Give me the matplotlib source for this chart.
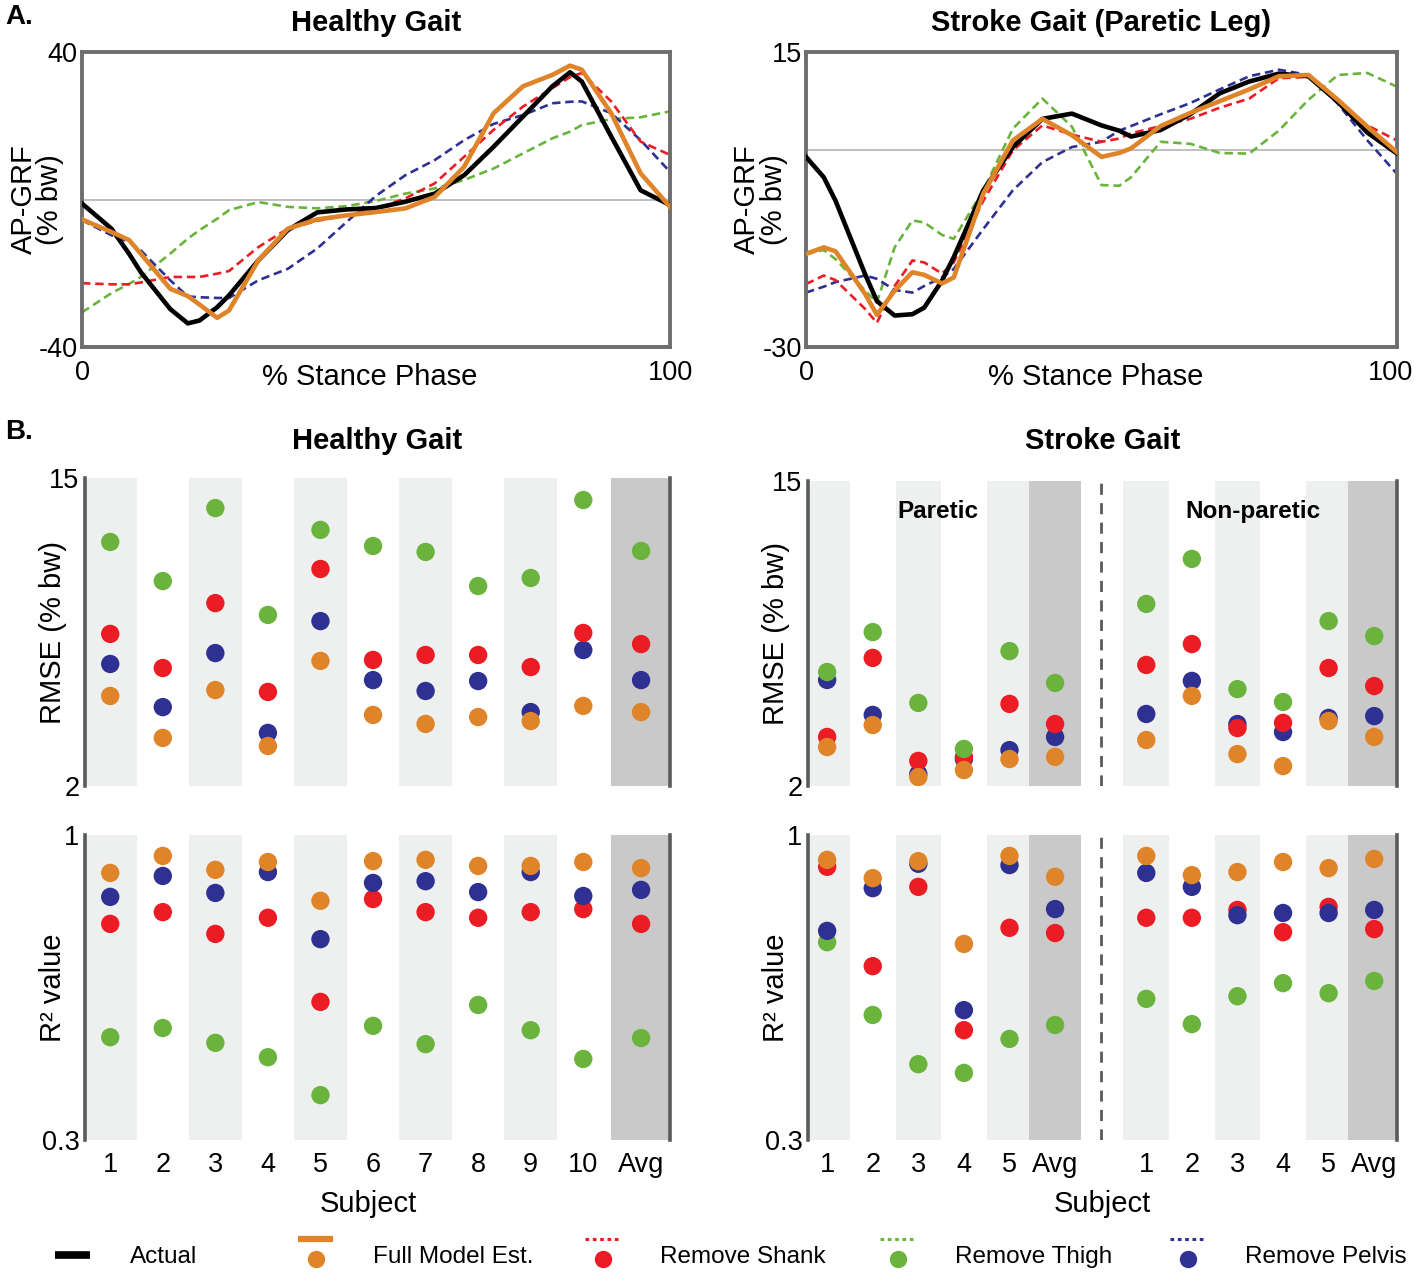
import matplotlib
matplotlib.use('Agg')
import matplotlib.pyplot as plt
from matplotlib.legend_handler import HandlerBase
from matplotlib.lines import Line2D
import matplotlib.transforms as mtransforms

# ---- Panel A: AP-GRF curves (% bw) over % stance ----
pct_healthy = [0, 5, 8, 10, 15, 18, 20, 23, 25, 30, 35, 40, 45, 50, 55, 60, 65, 70, 75, 80, 83, 85, 90, 95, 100]
healthy_actual = [-1.1, -7.9, -14.7, -19.7, -29.7, -33.6, -32.8, -29.2, -26.0, -16.5, -8.3, -3.5, -2.7, -2.3,
                  -0.6, 1.6, 6.6, 14.3, 22.5, 30.7, 34.5, 32.0, 17.1, 2.5, -1.5]
healthy_full = [-5.4, -8.8, -11.0, -14.7, -24.2, -26.2, -28.5, -32.1, -30.1, -16.5, -7.9, -5.4, -4.3, -3.4,
                -2.4, 0.7, 8.9, 23.4, 30.7, 33.8, 36.3, 35.2, 23.4, 7.1, -2.0]
healthy_shank = [-22.7, -23.0, -23.0, -22.5, -21.0, -21.0, -21.0, -20.1, -19.4, -12.9, -7.9, -5.8, -4.3, -2.5,
                 0.3, 4.4, 11.6, 18.9, 25.2, 30.2, 33.2, 34.3, 26.6, 15.7, 12.1]
healthy_thigh = [-30.6, -25.4, -22.9, -21.0, -14.7, -10.6, -8.3, -5.2, -2.9, -0.7, -2.0, -2.4, -1.8, -0.4,
                 1.6, 3.0, 5.3, 8.4, 12.5, 16.6, 18.4, 20.2, 21.8, 22.3, 23.9]
healthy_pelvis = [-5.6, -9.7, -11.5, -13.8, -21.9, -26.3, -26.5, -26.7, -26.7, -21.9, -18.8, -13.3, -6.1, 1.0,
                  6.6, 10.7, 16.1, 20.5, 22.9, 26.1, 26.5, 26.6, 23.4, 16.1, 7.5]

pct_stroke = [0, 3, 5, 10, 12, 15, 18, 20, 23, 25, 30, 35, 40, 45, 50, 53, 55, 60, 65, 70, 75, 80, 85, 90, 95, 100]
stroke_actual = [-1.0, -4.1, -7.7, -18.9, -23.0, -25.2, -25.0, -24.0, -19.9, -16.3, -6.1, 0.5, 4.8, 5.6, 3.8,
                 3.0, 2.1, 3.1, 5.5, 8.7, 10.5, 11.7, 11.3, 7.4, 2.7, -0.5]
stroke_full = [-15.8, -14.8, -15.4, -21.9, -25.1, -21.4, -18.6, -19.0, -20.3, -19.4, -6.6, 1.5, 4.8, 2.3, -1.0,
               -0.4, 0.3, 3.7, 5.7, 7.5, 9.3, 11.3, 11.5, 7.7, 3.6, -0.3]
stroke_shank = [-20.4, -19.1, -19.8, -24.2, -26.3, -20.7, -16.8, -17.1, -18.8, -17.1, -7.7, 0.0, 3.8, 2.4, 1.3,
                1.8, 2.6, 3.7, 4.8, 6.5, 7.9, 11.0, 11.2, 7.4, 3.8, 1.5]
stroke_thigh = [-15.8, -15.2, -16.6, -21.4, -23.2, -14.8, -10.7, -11.0, -12.9, -13.5, -6.1, 3.3, 7.9, 3.6, -5.3,
                -5.4, -4.1, 1.3, 1.0, -0.4, -0.5, 3.0, 7.7, 11.5, 11.8, 9.7]
stroke_pelvis = [-21.7, -20.8, -20.1, -19.1, -19.6, -21.3, -21.7, -20.7, -19.4, -18.1, -12.0, -6.1, -1.8, 0.5,
                 1.3, 3.0, 3.7, 5.5, 7.2, 9.3, 11.3, 12.3, 11.5, 7.1, 1.5, -3.6]

# ---- Panel B: RMSE (% bw) and R^2 per subject ----
healthy_labels = ['1', '2', '3', '4', '5', '6', '7', '8', '9', '10', 'Avg']
healthy_rmse_full = [5.80, 4.03, 6.05, 3.69, 7.28, 5.00, 4.62, 4.91, 4.74, 5.38, 5.12]
healthy_rmse_shank = [8.42, 6.98, 9.72, 5.97, 11.16, 7.32, 7.53, 7.53, 7.02, 8.46, 7.99]
healthy_rmse_thigh = [12.30, 10.65, 13.73, 9.22, 12.81, 12.13, 11.88, 10.44, 10.78, 14.07, 11.92]
healthy_rmse_pelvis = [7.15, 5.33, 7.61, 4.24, 8.96, 6.47, 6.01, 6.43, 5.12, 7.74, 6.47]

healthy_r2_full = [0.913, 0.952, 0.920, 0.938, 0.849, 0.940, 0.943, 0.929, 0.929, 0.938, 0.924]
healthy_r2_shank = [0.796, 0.823, 0.773, 0.810, 0.617, 0.853, 0.823, 0.810, 0.823, 0.830, 0.796]
healthy_r2_thigh = [0.536, 0.557, 0.523, 0.490, 0.403, 0.562, 0.520, 0.610, 0.552, 0.486, 0.534]
healthy_r2_pelvis = [0.858, 0.906, 0.867, 0.915, 0.761, 0.890, 0.894, 0.869, 0.915, 0.860, 0.874]

# stroke: paretic 1-5, Avg, then non-paretic 1-5, Avg
stroke_labels = ['1', '2', '3', '4', '5', 'Avg', '1', '2', '3', '4', '5', 'Avg']
stroke_rmse_full = [3.66, 4.60, 2.38, 2.68, 3.15, 3.24, 3.96, 5.84, 3.36, 2.85, 4.77, 4.09]
stroke_rmse_shank = [4.09, 7.46, 3.07, 3.24, 5.50, 4.64, 7.16, 8.05, 4.47, 4.69, 7.03, 6.26]
stroke_rmse_thigh = [6.86, 8.56, 5.54, 3.58, 7.75, 6.39, 9.76, 11.68, 6.13, 5.58, 9.03, 8.39]
stroke_rmse_pelvis = [6.52, 5.03, 2.51, 3.15, 3.53, 4.09, 5.07, 6.48, 4.64, 4.30, 4.90, 4.98]

stroke_r2_full = [0.943, 0.901, 0.940, 0.750, 0.952, 0.904, 0.952, 0.908, 0.915, 0.938, 0.924, 0.945]
stroke_r2_shank = [0.927, 0.699, 0.881, 0.552, 0.787, 0.775, 0.810, 0.810, 0.828, 0.777, 0.835, 0.784]
stroke_r2_thigh = [0.754, 0.587, 0.474, 0.454, 0.532, 0.564, 0.624, 0.566, 0.630, 0.660, 0.637, 0.665]
stroke_r2_pelvis = [0.780, 0.878, 0.934, 0.598, 0.931, 0.830, 0.913, 0.881, 0.816, 0.821, 0.821, 0.828]

# colours
C_ACT = 'black'
C_FULL = '#df8429'
C_SHANK = '#ec1c24'
C_THIGH = '#6ab43e'
C_PELV = '#2e3192'
BAND = '#eef0f0'
BAND_AVG = '#c9c9c9'
SPINE = '#5a5a5a'

plt.rcParams['font.family'] = ['Liberation Sans', 'DejaVu Sans']
plt.rcParams['axes.unicode_minus'] = False

TICK_FS = 19.5
LABEL_FS = 21
TITLE_FS = 21

W, H = 1415, 1276
fig = plt.figure(figsize=(W / 100, H / 100), dpi=100)


def add_ax(l, t, r, b):
    return fig.add_axes([l / W, 1 - b / H, (r - l) / W, (b - t) / H])


def curve_panel(ax, pct, actual, full, shank, thigh, pelvis, ylim, title):
    ax.axhline(0, color='#b4b4b4', lw=1.2, zorder=1)
    for vals, c in [(thigh, C_THIGH), (pelvis, C_PELV), (shank, C_SHANK)]:
        ax.plot(pct, vals, color=c, lw=1.9, ls=(0, (3.2, 1.8)), zorder=2)
    ax.plot(pct, actual, color=C_ACT, lw=3.3, zorder=3, solid_joinstyle='round')
    ax.plot(pct, full, color=C_FULL, lw=3.3, zorder=4, solid_joinstyle='round')
    ax.set_xlim(0, 100)
    ax.set_ylim(*ylim)
    ax.set_xticks([0, 100])
    ax.set_yticks(list(ylim))
    ax.tick_params(length=0, labelsize=TICK_FS)
    ax.tick_params(axis='x', pad=9)
    ax.tick_params(axis='y', pad=3)
    for sp in ax.spines.values():
        sp.set_linewidth(2.8)
        sp.set_color('#6e6e6e')
    ax.set_title(title, fontsize=TITLE_FS, fontweight='bold', pad=15)
    ax.set_xlabel('% Stance Phase', fontsize=LABEL_FS)
    ax.xaxis.set_label_coords(0.49, -0.055)
    ax.set_ylabel('AP-GRF\n(% bw)', fontsize=LABEL_FS, linespacing=0.95)
    ax.yaxis.set_label_coords(-0.03, 0.5)


def dot_panel(ax, pos, labels, sets, ylim, ylabel, light, dark, xlim, show_x, divider=None):
    for p in light:
        ax.axvspan(pos[p] - 0.5, pos[p] + 0.5, color=BAND, lw=0, zorder=0)
    for p in dark:
        ax.axvspan(pos[p] - 0.57, pos[p] + 0.57, color=BAND_AVG, lw=0, zorder=0)
    if divider is not None:
        ax.axvline(divider, color=SPINE, lw=2, ls=(0, (4, 3)), zorder=1)
    for vals, c in sets:
        ax.scatter(pos, vals, s=175, color=c, edgecolors='none', zorder=3)
    ax.set_xlim(*xlim)
    ax.set_ylim(*ylim)
    ax.set_yticks(list(ylim))
    ax.set_yticklabels([f'{v:g}' for v in ylim])
    ax.set_xticks(pos)
    if show_x:
        ax.set_xticklabels(labels)
    else:
        ax.set_xticklabels([])
    ax.tick_params(length=0, labelsize=TICK_FS)
    ax.tick_params(axis='x', pad=9)
    ax.tick_params(axis='y', pad=4)
    for s in ['top', 'bottom']:
        ax.spines[s].set_visible(False)
    for s in ['left', 'right']:
        ax.spines[s].set_linewidth(2.6)
        ax.spines[s].set_color(SPINE)
    ax.set_ylabel(ylabel, fontsize=LABEL_FS)


# ---- Panel A ----
ax_a1 = add_ax(82, 52, 670, 347)
curve_panel(ax_a1, pct_healthy, healthy_actual, healthy_full, healthy_shank, healthy_thigh, healthy_pelvis,
            (-40, 40), 'Healthy Gait')
ax_a2 = add_ax(806, 52, 1397, 347)
curve_panel(ax_a2, pct_stroke, stroke_actual, stroke_full, stroke_shank, stroke_thigh, stroke_pelvis,
            (-30, 15), 'Stroke Gait (Paretic Leg)')
# keep the right-hand "100" inside the canvas
last = ax_a2.get_xticklabels()[-1]
last.set_transform(last.get_transform() + mtransforms.ScaledTranslation(-0.07, 0, fig.dpi_scale_trans))

# ---- Panel B ----
hpos = list(range(10)) + [10.1]
spos = [0, 1, 2, 3, 4, 5, 7, 8, 9, 10, 11, 12]
h_xlim = (-0.48, 10.65)
s_xlim = (-0.42, 12.5)

ax_b1 = add_ax(85, 478, 670, 786)
dot_panel(ax_b1, hpos, healthy_labels,
          [(healthy_rmse_pelvis, C_PELV), (healthy_rmse_shank, C_SHANK),
           (healthy_rmse_thigh, C_THIGH), (healthy_rmse_full, C_FULL)],
          (2, 15), 'RMSE (% bw)', [0, 2, 4, 6, 8], [10], h_xlim, False)
ax_b1.set_title('Healthy Gait', fontsize=TITLE_FS, fontweight='bold', pad=21)
ax_b1.yaxis.set_label_coords(-0.03, 0.5)

ax_b2 = add_ax(808, 481, 1397, 786)
dot_panel(ax_b2, spos, stroke_labels,
          [(stroke_rmse_pelvis, C_PELV), (stroke_rmse_shank, C_SHANK),
           (stroke_rmse_thigh, C_THIGH), (stroke_rmse_full, C_FULL)],
          (2, 15), 'RMSE (% bw)', [0, 2, 4, 6, 8, 10], [5, 11], s_xlim, False, divider=6)
ax_b2.set_title('Stroke Gait', fontsize=TITLE_FS, fontweight='bold', pad=23)
ax_b2.yaxis.set_label_coords(-0.03, 0.5)
tr = mtransforms.blended_transform_factory(ax_b2.transData, ax_b2.transAxes)
ax_b2.text(2.42, 0.9, 'Paretic', transform=tr, ha='center', va='center', fontsize=17.5, fontweight='bold')
ax_b2.text(9.35, 0.9, 'Non-paretic', transform=tr, ha='center', va='center', fontsize=17.5, fontweight='bold')

ax_c1 = add_ax(85, 835, 670, 1140)
dot_panel(ax_c1, hpos, healthy_labels,
          [(healthy_r2_shank, C_SHANK), (healthy_r2_thigh, C_THIGH),
           (healthy_r2_pelvis, C_PELV), (healthy_r2_full, C_FULL)],
          (0.3, 1), 'R² value', [0, 2, 4, 6, 8], [10], h_xlim, True)
ax_c1.yaxis.set_label_coords(-0.03, 0.5)
ax_c1.set_xlabel('Subject', fontsize=LABEL_FS)
ax_c1.xaxis.set_label_coords(0.484, -0.165)

ax_c2 = add_ax(808, 835, 1397, 1140)
dot_panel(ax_c2, spos, stroke_labels,
          [(stroke_r2_shank, C_SHANK), (stroke_r2_thigh, C_THIGH),
           (stroke_r2_pelvis, C_PELV), (stroke_r2_full, C_FULL)],
          (0.3, 1), 'R² value', [0, 2, 4, 6, 8, 10], [5, 11], s_xlim, True, divider=6)
ax_c2.yaxis.set_label_coords(-0.03, 0.5)
ax_c2.set_xlabel('Subject', fontsize=LABEL_FS)
ax_c2.xaxis.set_label_coords(0.5, -0.165)

fig.text(5 / W, 1 - 4 / H, 'A.', fontsize=20, fontweight='bold', va='top', ha='left')
fig.text(5 / W, 1 - 419 / H, 'B.', fontsize=20, fontweight='bold', va='top', ha='left')


# ---- legend: line sample stacked over a dot ----
class StackHandler(HandlerBase):
    def create_artists(self, legend, orig_handle, xdescent, ydescent, width, height, fontsize, trans):
        line_kw, dot_color = orig_handle
        arts = []
        if dot_color is None:
            y_line = height / 2 - ydescent
        else:
            y_line = height / 2 - ydescent + 0.62 * fontsize
            dot = Line2D([width / 2 - xdescent], [height / 2 - ydescent - 0.2 * fontsize], ls='none',
                         marker='o', ms=12.5, color=dot_color, mec='none', transform=trans)
            arts.append(dot)
        ln = Line2D([-xdescent, width - xdescent], [y_line, y_line], transform=trans, **line_kw)
        arts.append(ln)
        return arts


legend_items = [
    ((dict(color=C_ACT, lw=5.5, solid_capstyle='butt'), None), 'Actual', 55),
    ((dict(color=C_FULL, lw=4.5, solid_capstyle='butt'), C_FULL), 'Full Model Est.', 298),
    ((dict(color=C_SHANK, lw=2.2, ls=(0, (1.2, 1.2))), C_SHANK), 'Remove Shank', 585),
    ((dict(color=C_THIGH, lw=2.2, ls=(0, (1.2, 1.2))), C_THIGH), 'Remove Thigh', 880),
    ((dict(color=C_PELV, lw=2.2, ls=(0, (1.2, 1.2))), C_PELV), 'Remove Pelvis', 1170),
]
for handle, label, x0 in legend_items:
    fig.legend([handle], [label], handler_map={tuple: StackHandler()}, loc='center left',
               bbox_to_anchor=(x0 / W, 1 - 1257 / H), frameon=False, fontsize=17.5,
               handlelength=1.45, handletextpad=1.65, borderpad=0, borderaxespad=0)

fig.savefig('out.png', dpi=100)
